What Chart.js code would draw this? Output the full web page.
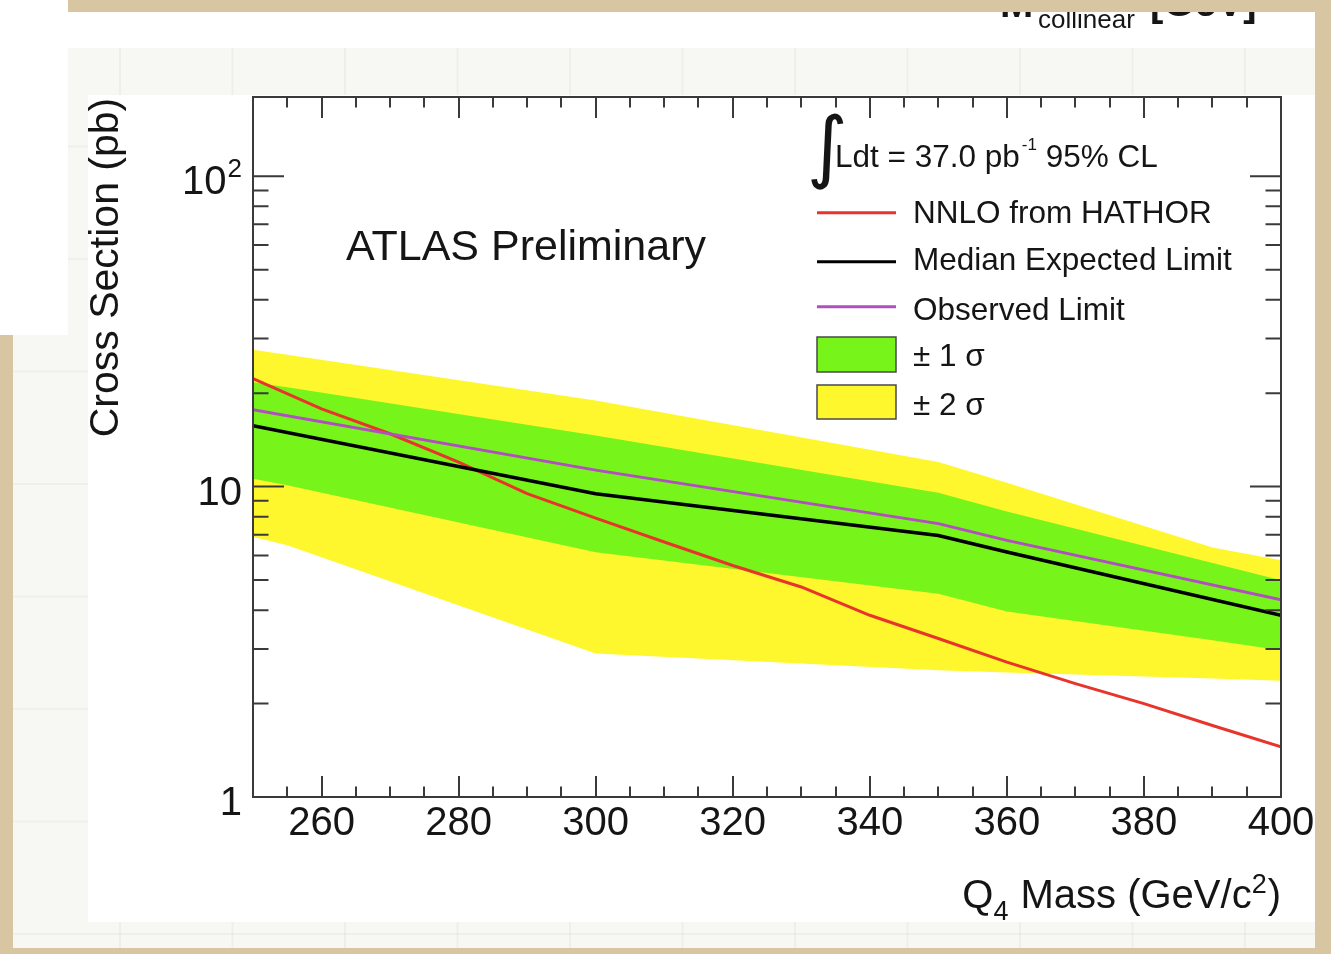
<!DOCTYPE html>
<html><head><meta charset="utf-8">
<script src="https://cdn.jsdelivr.net/npm/chart.js@4.4.1/dist/chart.umd.min.js"></script>
<style>
html,body{margin:0;padding:0;}
body{width:1331px;height:954px;background:#d8c6a2;position:relative;overflow:hidden;font-family:"Liberation Sans",Arial,sans-serif;}
.abs{position:absolute;}
#paper{left:13px;top:12px;width:1302px;height:936px;background-color:#f7f7f3;
 background-image:linear-gradient(90deg, rgba(0,0,0,0.035) 2px, transparent 2px), linear-gradient(0deg, rgba(0,0,0,0.03) 2px, transparent 2px);
 background-size:112.5px 112.5px; background-position:106px 23px;}
#topband{left:68px;top:12px;width:1247px;height:36px;background:#fff;}
#leftblock{left:0;top:0;width:68px;height:335px;background:#fff;}
#plotbg{left:88px;top:95px;width:1227px;height:827px;background:#fff;}
#c{position:absolute;left:0;top:0;}
</style>
</head>
<body>
<div id="paper" class="abs"></div>
<div id="topband" class="abs"></div>
<div id="leftblock" class="abs"></div>
<div id="plotbg" class="abs"></div>
<canvas id="c" width="1331" height="954"></canvas>
<script>
// ---------------- data ----------------
const nnloMasses = [250, 260, 270, 280, 290, 300, 310, 320, 330, 340, 350, 360, 370, 380, 390, 400];
const nnloHathor = [22.3, 17.8, 14.8, 12.0, 9.49, 7.92, 6.63, 5.57, 4.75, 3.85, 3.24, 2.72, 2.32, 2.00, 1.70, 1.45];

const limitMasses = [250, 300, 350, 360, 400];
const medianExpected = [15.7, 9.49, 6.96, 6.16, 3.85];
const observedLimit = [17.7, 11.3, 7.60, 6.71, 4.32];

const bandMasses = [250, 255, 300, 350, 360, 390, 400];
const plus2Sigma  = [27.6, 26.6, 18.95, 12.0, 10.3, 6.37, 5.79];
const plus1Sigma  = [21.7, 20.9, 14.6, 9.55, 8.32, 5.67, 4.99];
const minus1Sigma = [10.6, 10.1, 6.15, 4.52, 3.96, 3.20, 2.97];
const minus2Sigma = [6.88, 6.47, 2.90, 2.56, 2.52, 2.41, 2.37];

const xTickValues = [260, 280, 300, 320, 340, 360, 380, 400];
const xTickLabels = ['260', '280', '300', '320', '340', '360', '380', '400'];
const yTickValues = [1, 10, 100];
const yTickBase = ['1', '10', '10'];
const yTickExp = ['', '', '2'];

const seriesLabels = ['Observed Limit', 'Median Expected Limit', 'NNLO from HATHOR', '\u00B1 1 \u03C3', '', '\u00B1 2 \u03C3', ''];

// ---------------- styling ----------------
const C_RED = '#e8352b', C_BLACK = '#000000', C_PURPLE = '#b24fc0';
const C_GREEN = '#77f51a', C_YELLOW = '#fff72e', C_AXIS = '#3a3a3a', C_TEXT = '#151515';
const FONT = '"Liberation Sans", Arial, Helvetica, sans-serif';

const pts = (xs, ys) => xs.map((x, i) => ({x: x, y: ys[i]}));
const lineDs = (label, xs, ys, color, w) => ({label, data: pts(xs, ys), borderColor: color, borderWidth: w,
  pointRadius: 0, tension: 0, fill: false});
const bandDs = (label, xs, ys, color, fill) => ({label, data: pts(xs, ys), borderColor: 'rgba(0,0,0,0)', borderWidth: 0,
  backgroundColor: color, pointRadius: 0, tension: 0, fill: fill});

function txt(ctx, s, x, y, size, align) {
  ctx.font = size + 'px ' + FONT;
  ctx.textAlign = align || 'left';
  ctx.textBaseline = 'alphabetic';
  ctx.fillText(s, x, y);
  return ctx.measureText(s).width;
}
function width(ctx, s, size) { ctx.font = size + 'px ' + FONT; return ctx.measureText(s).width; }

const atlasPlugin = {
  id: 'atlas',
  afterDatasetsDraw(chart) {
    const ctx = chart.ctx, a = chart.chartArea, xs = chart.scales.x, ys = chart.scales.y;
    ctx.save();
    ctx.beginPath(); ctx.rect(0, 0, 1316, 954); ctx.clip();
    // frame
    ctx.strokeStyle = C_AXIS; ctx.lineWidth = 2;
    ctx.strokeRect(a.left, a.top, a.right - a.left, a.bottom - a.top);
    // x ticks (bottom and top, inside)
    for (let m = xs.min; m <= xs.max + 0.01; m += 5) {
      const px = Math.round(xs.getPixelForValue(m));
      const major = (m % 20 === 0);
      const L = major ? 21 : 10.5;
      ctx.beginPath();
      ctx.moveTo(px, a.bottom); ctx.lineTo(px, a.bottom - L);
      ctx.moveTo(px, a.top); ctx.lineTo(px, a.top + L);
      ctx.stroke();
    }
    // y ticks (left and right, inside)
    for (let d = 1; d <= 100; d *= 10) {
      for (let k = 1; k <= 9; k++) {
        const v = d * k;
        if (v > ys.max) break;
        const py = ys.getPixelForValue(v);
        const L = (k === 1) ? 31 : 15.5;
        ctx.beginPath();
        ctx.moveTo(a.left, py); ctx.lineTo(a.left + L, py);
        ctx.moveTo(a.right, py); ctx.lineTo(a.right - L, py);
        ctx.stroke();
      }
    }
    ctx.fillStyle = C_TEXT;
    // x tick labels
    xTickValues.forEach((v, i) => txt(ctx, xTickLabels[i], xs.getPixelForValue(v), a.bottom + 38, 40, 'center'));
    // y tick labels
    yTickValues.forEach((v, i) => {
      const py = ys.getPixelForValue(v);
      const rx = a.left - 11;
      if (yTickExp[i]) {
        const we = txt(ctx, yTickExp[i], rx, py + 1, 26, 'right');
        txt(ctx, yTickBase[i], rx - we - 1, py + 18, 40, 'right');
      } else {
        txt(ctx, yTickBase[i], rx, py + 18, 40, 'right');
      }
    });
    // y axis title
    ctx.save();
    ctx.translate(118, 267.5); ctx.rotate(-Math.PI / 2);
    txt(ctx, 'Cross Section (pb)', 0, 0, 41, 'center');
    ctx.restore();
    // x axis title: Q_4 Mass (GeV/c^2), right aligned to frame
    {
      const parts = [['Q', 40, 0], ['4', 27, 12], [' Mass (GeV/c', 40, 0], ['2', 27, -15], [')', 40, 0]];
      let tot = 0; parts.forEach(p => tot += width(ctx, p[0], p[1]) + (p[1] === 27 ? 1 : 0));
      let x = a.right - tot; const base = 908;
      parts.forEach(p => { x += txt(ctx, p[0], x, base + p[2], p[1], 'left') + (p[1] === 27 ? 1 : 0); });
    }
    // ATLAS Preliminary
    txt(ctx, 'ATLAS Preliminary', 346, 260, 43, 'left');
    // legend header: integral
    {
      ctx.font = '100px "DejaVu Sans", sans-serif';
      const m = ctx.measureText('\u222B');
      const h = m.actualBoundingBoxAscent + m.actualBoundingBoxDescent;
      const s = 77 / h;
      ctx.font = (100 * s) + 'px "DejaVu Sans", sans-serif';
      ctx.textAlign = 'left'; ctx.textBaseline = 'alphabetic';
      const m2 = ctx.measureText('\u222B');
      ctx.fillText('\u222B', 811 + m2.actualBoundingBoxLeft, 113 + m2.actualBoundingBoxAscent);
      let x = 835;
      x += txt(ctx, 'Ldt = 37.0 pb', x, 167, 31.5, 'left');
      x += 2;
      x += txt(ctx, '-1', x, 150, 17, 'left');
      txt(ctx, ' 95% CL', x, 167, 31.5, 'left');
    }
    // legend entries
    const ds = chart.data.datasets;
    const lineEntries = [[2, 212.7, 223], [1, 261.7, 270], [0, 306.7, 320]];
    lineEntries.forEach(e => {
      const d = ds[e[0]];
      ctx.strokeStyle = d.borderColor; ctx.lineWidth = 3;
      ctx.beginPath(); ctx.moveTo(817, e[1]); ctx.lineTo(896, e[1]); ctx.stroke();
      ctx.fillStyle = C_TEXT; txt(ctx, d.label, 913, e[2], 31.5, 'left');
    });
    const boxEntries = [[3, 337, 372, 366], [5, 385, 419, 415]];
    boxEntries.forEach(e => {
      const d = ds[e[0]];
      ctx.fillStyle = d.backgroundColor; ctx.fillRect(817, e[1], 79, e[2] - e[1]);
      ctx.strokeStyle = '#4a4a4a'; ctx.lineWidth = 1.5; ctx.strokeRect(817, e[1], 79, e[2] - e[1]);
      ctx.fillStyle = C_TEXT; txt(ctx, d.label, 913, e[3], 31.5, 'left');
    });
    // clipped header text from the picture above (M_collinear [GeV])
    ctx.save();
    ctx.beginPath(); ctx.rect(68, 12, 1247, 36); ctx.clip();
    ctx.fillStyle = C_TEXT;
    ctx.font = 'bold 40px ' + FONT; ctx.textAlign = 'left'; ctx.fillText('M', 1000, 17);
    txt(ctx, 'collinear', 1038, 28, 26, 'left');
    ctx.font = 'bold 40px ' + FONT; ctx.fillText('[GeV]', 1150, 16);
    ctx.restore();
    ctx.restore();
  }
};

new Chart(document.getElementById('c'), {
  type: 'line',
  data: {
    datasets: [
      lineDs(seriesLabels[0], limitMasses, observedLimit, C_PURPLE, 3),
      lineDs(seriesLabels[1], limitMasses, medianExpected, C_BLACK, 3.5),
      lineDs(seriesLabels[2], nnloMasses, nnloHathor, C_RED, 3),
      bandDs(seriesLabels[3], bandMasses, plus1Sigma, C_GREEN, '+1'),
      bandDs(seriesLabels[4], bandMasses, minus1Sigma, C_GREEN, false),
      bandDs(seriesLabels[5], bandMasses, plus2Sigma, C_YELLOW, '+1'),
      bandDs(seriesLabels[6], bandMasses, minus2Sigma, C_YELLOW, false)
    ]
  },
  options: {
    responsive: false,
    animation: false,
    devicePixelRatio: 1,
    layout: {padding: {left: 0, right: 50, top: 97, bottom: 0}},
    plugins: {legend: {display: false}, tooltip: {enabled: false}},
    scales: {
      x: {type: 'linear', min: 250, max: 400, ticks: {display: false}, grid: {display: false}, border: {display: false},
          afterFit: s => { s.height = 157; }},
      y: {type: 'logarithmic', min: 1, max: 180, ticks: {display: false}, grid: {display: false}, border: {display: false},
          afterFit: s => { s.width = 253; }}
    }
  },
  plugins: [atlasPlugin]
});
</script>
</body></html>
